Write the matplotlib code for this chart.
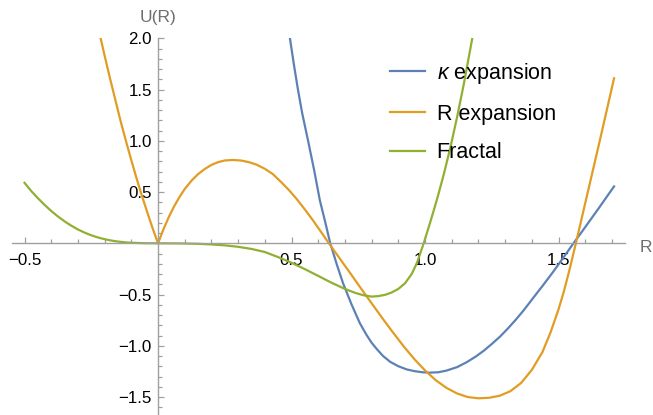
import numpy as np
import matplotlib
matplotlib.use("Agg")
import matplotlib.pyplot as plt

plt.rcParams['font.family'] = ['Liberation Sans', 'DejaVu Sans']
plt.rcParams['mathtext.fontset'] = 'custom'
plt.rcParams['mathtext.it'] = 'Liberation Sans:italic'
plt.rcParams['mathtext.rm'] = 'Liberation Sans'

# ---- data ----
kappa_x = [0.494, 0.51, 0.524, 0.54, 0.562, 0.585, 0.606, 0.625, 0.645, 0.67, 0.693, 0.725,
           0.756, 0.78, 0.80, 0.82, 0.843, 0.87, 0.90, 0.931, 0.96, 0.99, 1.018, 1.05, 1.08,
           1.12, 1.156, 1.19, 1.22, 1.25, 1.281, 1.31, 1.34, 1.37, 1.406, 1.44, 1.48, 1.518,
           1.556, 1.60, 1.65, 1.708]
kappa_y = [2.0, 1.725, 1.5, 1.268, 1.0, 0.71, 0.42, 0.22, 0.0, -0.21, -0.39, -0.598,
           -0.78, -0.89, -0.97, -1.034, -1.10, -1.157, -1.199, -1.23, -1.247, -1.258, -1.262,
           -1.258, -1.242, -1.208, -1.16, -1.105, -1.048, -0.982, -0.91, -0.832, -0.745, -0.652,
           -0.53, -0.416, -0.278, -0.14, 0.0, 0.158, 0.34, 0.555]

rexp_x = [-0.215, -0.20, -0.18, -0.16, -0.14, -0.12, -0.10, -0.08, -0.06, -0.04, -0.02, 0.0,
          0.02, 0.04, 0.06, 0.08, 0.10, 0.125, 0.15, 0.175, 0.20, 0.225, 0.25, 0.28, 0.31,
          0.34, 0.37, 0.40, 0.43, 0.46, 0.49, 0.52, 0.55, 0.58, 0.61, 0.64, 0.68, 0.72, 0.76,
          0.80, 0.84, 0.88, 0.92, 0.96, 1.00, 1.04, 1.08, 1.12, 1.16, 1.20, 1.24, 1.28, 1.32,
          1.36, 1.40, 1.44, 1.47, 1.50, 1.52, 1.54, 1.565, 1.59, 1.62, 1.65, 1.68, 1.708]
rexp_y = [2.0, 1.83, 1.61, 1.40, 1.19, 0.996, 0.81, 0.63, 0.46, 0.30, 0.144, 0.0,
          0.135, 0.255, 0.36, 0.45, 0.53, 0.61, 0.675, 0.725, 0.765, 0.792, 0.808, 0.813, 0.808,
          0.792, 0.766, 0.727, 0.675, 0.60, 0.52, 0.43, 0.33, 0.225, 0.113, 0.0, -0.146, -0.292,
          -0.44, -0.585, -0.73, -0.87, -1.005, -1.13, -1.24, -1.335, -1.41, -1.465, -1.50, -1.512,
          -1.507, -1.487, -1.442, -1.362, -1.235, -1.06, -0.87, -0.645, -0.47, -0.27, 0.0, 0.28,
          0.615, 0.95, 1.29, 1.61]

frac_x = [-0.5, -0.475, -0.45, -0.425, -0.40, -0.375, -0.35, -0.325, -0.30, -0.275, -0.25,
          -0.225, -0.20, -0.175, -0.15, -0.125, -0.10, -0.05, 0.0, 0.05, 0.10, 0.15, 0.20, 0.25,
          0.30, 0.35, 0.40, 0.45, 0.50, 0.55, 0.60, 0.65, 0.70, 0.74, 0.77, 0.80, 0.825, 0.85,
          0.875, 0.90, 0.925, 0.95, 0.97, 0.995, 1.02, 1.045, 1.07, 1.095, 1.12, 1.145, 1.177]
frac_y = [0.59, 0.51, 0.44, 0.375, 0.315, 0.262, 0.214, 0.172, 0.135, 0.104, 0.078,
          0.057, 0.040, 0.027, 0.017, 0.010, 0.005, 0.001, 0.0, -0.0005, -0.002, -0.005, -0.011,
          -0.02, -0.034, -0.055, -0.085, -0.135, -0.19, -0.252, -0.318, -0.385, -0.445, -0.485,
          -0.507, -0.52, -0.515, -0.503, -0.48, -0.445, -0.39, -0.30, -0.19, 0.0, 0.21, 0.43,
          0.67, 0.935, 1.23, 1.55, 2.0]

series = [("$\\kappa$ expansion", kappa_x, kappa_y, "#5E81B5"),
          ("R expansion", rexp_x, rexp_y, "#E19C24"),
          ("Fractal", frac_x, frac_y, "#8FB032")]

xticks_major = [-0.5, 0.5, 1.0, 1.5]
yticks_major = [-1.5, -1.0, -0.5, 0.5, 1.0, 1.5, 2.0]

# ---- figure ----
W, H = 653, 415
fig = plt.figure(figsize=(W / 100, H / 100), dpi=100)
ax = fig.add_axes([12 / W, 0.0, (625 - 12) / W, (415 - 38.3) / H])
ax.set_xlim(-0.547, 1.749)
ax.set_ylim(-1.675, 2.0)

for label, xs, ys, col in series:
    ax.plot(xs, ys, color=col, lw=1.6, label=label, solid_joinstyle='round')

axcol = '#a0a0a0'
for s in ['top', 'right']:
    ax.spines[s].set_visible(False)
ax.spines['left'].set_position(('data', 0))
ax.spines['bottom'].set_position(('data', 0))
for s in ['left', 'bottom']:
    ax.spines[s].set_color(axcol)
    ax.spines[s].set_linewidth(1.0)
ax.patch.set_visible(False)

minx = [v for v in np.round(np.arange(-0.5, 1.7001, 0.1), 2) if abs(v) > 1e-9 and v not in xticks_major]
miny = [v for v in np.round(np.arange(-1.6, 2.0001, 0.1), 2) if abs(v) > 1e-9 and v not in yticks_major]
ax.set_xticks(xticks_major)
ax.set_xticklabels([f"{v:.1f}".replace('-', '\u2212') for v in xticks_major])
ax.set_yticks(yticks_major)
ax.set_yticklabels([f"{v:.1f}".replace('-', '\u2212') for v in yticks_major])
ax.set_xticks(minx, minor=True)
ax.set_yticks(miny, minor=True)
ax.tick_params(which='both', direction='in', color=axcol, width=0.9, labelsize=12.2,
               labelcolor='black')
ax.tick_params(which='major', length=4.2)
ax.tick_params(which='minor', length=2.8)
ax.tick_params(axis='x', which='major', pad=7)
ax.tick_params(axis='y', which='major', pad=4.5)

ax.annotate("U(R)", xy=(0, 1), xycoords=('data', 'axes fraction'), xytext=(0, 11.5),
            textcoords='offset points', ha='center', va='baseline', fontsize=12.5,
            color='#6e6e6e', annotation_clip=False)
ax.annotate("R", xy=(1, 0), xycoords=('axes fraction', 'data'), xytext=(10.8, -6),
            textcoords='offset points', ha='left', va='baseline', fontsize=12.5,
            color='#6e6e6e', annotation_clip=False)

leg = ax.legend(loc='upper left', bbox_to_anchor=(390 / W, 1 - 61 / H),
                bbox_transform=fig.transFigure, frameon=False, fontsize=15.5,
                handlelength=1.63, handletextpad=0.54, labelspacing=0.82,
                borderpad=0, borderaxespad=0)

fig.savefig("out.png", dpi=100)
